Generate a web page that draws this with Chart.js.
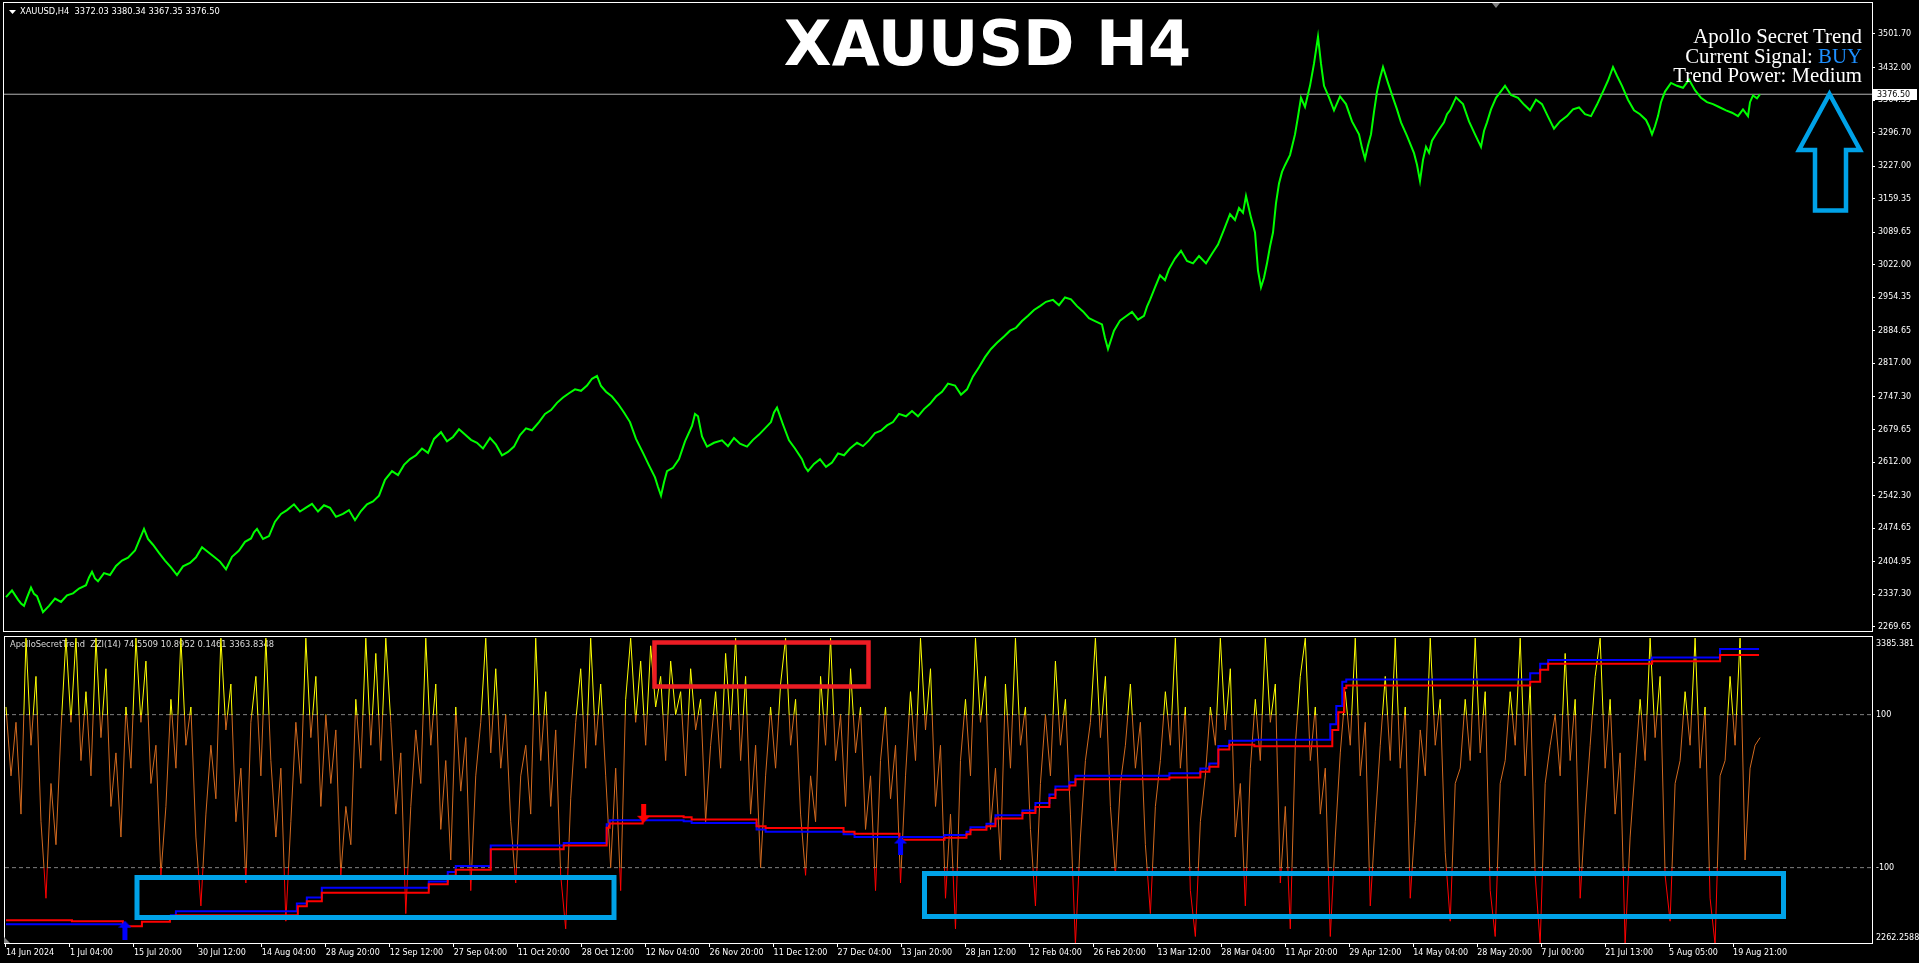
<!DOCTYPE html>
<html>
<head>
<meta charset="utf-8">
<title>XAUUSD H4</title>
<script src="https://cdn.jsdelivr.net/npm/chart.js@4.4.1/dist/chart.umd.min.js"></script>
<style>
  html, body { margin: 0; padding: 0; background: #000; width: 1919px; height: 963px; overflow: hidden; }
  #wrap { position: relative; width: 1919px; height: 963px; }
  canvas { position: absolute; left: 0; }
  #priceCanvas { top: 0; }
  #oscCanvas { top: 632px; }
  .txt { position: absolute; color: #fff; white-space: pre; }
  #header { left: 20px; top: 5px; font: 8.3px 'DejaVu Sans'; line-height: 12px; }
  #title { left: 0; width: 1975px; text-align: center; top: 13px; font: bold 62px 'DejaVu Sans'; line-height: 62px; }
  #info { right: 57px; top: 26px; font: 20.8px 'Liberation Serif'; line-height: 19.7px; text-align: right; }
  #info .buy { color: #1e90ff; }
  #marks { position: absolute; left: 0; top: 0; pointer-events: none; }
</style>
</head>
<body>
<div id="wrap">
  <canvas id="priceCanvas" width="1919" height="632"></canvas>
  <canvas id="oscCanvas" width="1919" height="331"></canvas>
  <div class="txt" id="header">XAUUSD,H4  3372.03 3380.34 3367.35 3376.50</div>
  <div class="txt" id="title">XAUUSD H4</div>
  <div class="txt" id="info">Apollo Secret Trend
Current Signal: <span class="buy">BUY</span>
Trend Power: Medium</div>
  <svg id="marks" width="1919" height="963">
    <polygon points="9,10 16,10 12.5,14" fill="#fff"/>
    <polygon points="1492,3 1500,3 1496,8" fill="#808080"/>
    <polygon points="4,937 4,943 10,943" fill="#808080"/>
    <!-- paint annotations -->
    <polygon points="1829.5,94 1860,150 1846,150 1846,210.5 1815,210.5 1815,150 1799,150"
             fill="none" stroke="#00a2e8" stroke-width="4.5" stroke-linejoin="miter"/>
    <rect x="654.5" y="642.5" width="214" height="44" fill="none" stroke="#ed1c24" stroke-width="4.5"/>
    <rect x="137" y="877.5" width="477" height="40" fill="none" stroke="#00a2e8" stroke-width="5"/>
    <rect x="924.5" y="873.5" width="859" height="43" fill="none" stroke="#00a2e8" stroke-width="5"/>
  </svg>
</div>

<script>
// ---- price pane (H4 closes) ----
const priceBars = [1,7,13,16,19,22,26,29,32,38,44,50,56,62,68,74,81,84,87,90,93,99,105,111,117,123,130,134,139,143,148,154,160,166,172,178,185,191,197,203,209,215,221,227,234,240,246,249,252,258,264,270,276,282,289,295,301,307,313,319,325,331,338,344,350,356,362,368,374,380,387,393,399,405,411,417,423,429,436,442,448,454,460,466,472,478,485,491,497,503,509,515,521,527,534,540,546,552,558,564,570,576,582,587,592,596,601,607,613,619,625,631,638,644,650,653,656,659,662,668,674,680,687,690,693,697,702,709,717,723,729,735,742,748,754,760,766,769,772,778,784,790,797,800,803,809,815,821,827,833,839,845,852,858,864,870,876,882,888,894,901,907,913,919,925,931,937,943,950,956,962,968,974,980,986,992,999,1005,1011,1017,1023,1029,1035,1041,1048,1054,1060,1066,1072,1078,1084,1090,1097,1100,1103,1109,1115,1121,1127,1133,1139,1142,1145,1150,1155,1160,1164,1170,1176,1182,1188,1194,1201,1207,1213,1219,1225,1230,1234,1238,1241,1246,1250,1253,1256,1259,1262,1265,1268,1271,1274,1277,1280,1285,1290,1293,1296,1300,1305,1309,1313,1316,1319,1324,1329,1335,1341,1347,1354,1357,1360,1363,1366,1369,1372,1375,1378,1383,1388,1392,1396,1402,1409,1412,1415,1418,1421,1424,1427,1433,1439,1442,1445,1451,1458,1464,1470,1473,1476,1479,1482,1486,1491,1495,1500,1506,1513,1519,1525,1531,1537,1543,1549,1555,1562,1568,1574,1580,1586,1592,1598,1603,1608,1612,1617,1623,1629,1635,1641,1644,1647,1650,1653,1656,1660,1666,1672,1678,1684,1690,1696,1702,1708,1714,1721,1727,1733,1738,1743,1745,1748,1752,1755];
const priceClose = [2331,2345,2326,2318,2313,2330,2351,2338,2333,2300,2313,2328,2321,2335,2339,2349,2356,2372,2384,2370,2364,2381,2377,2396,2407,2413,2428,2448,2473,2452,2440,2423,2407,2393,2377,2395,2402,2414,2435,2425,2415,2405,2389,2415,2428,2446,2453,2466,2473,2452,2458,2488,2504,2512,2524,2509,2517,2525,2509,2522,2517,2498,2504,2512,2491,2510,2524,2530,2542,2575,2593,2585,2606,2618,2626,2640,2631,2660,2674,2655,2664,2680,2669,2658,2652,2640,2662,2648,2626,2633,2644,2668,2682,2678,2695,2712,2720,2735,2746,2755,2763,2760,2771,2785,2791,2770,2758,2748,2733,2715,2695,2660,2631,2605,2580,2560,2542,2570,2593,2600,2618,2655,2687,2712,2707,2665,2644,2652,2657,2645,2662,2650,2644,2658,2669,2682,2695,2715,2725,2690,2657,2640,2618,2602,2593,2608,2618,2602,2611,2630,2626,2640,2652,2645,2657,2672,2677,2688,2695,2712,2707,2718,2707,2722,2733,2748,2758,2775,2771,2752,2763,2790,2809,2830,2847,2860,2873,2885,2891,2905,2916,2928,2936,2945,2949,2938,2954,2950,2936,2925,2911,2905,2898,2870,2847,2885,2906,2915,2924,2908,2916,2935,2949,2975,3000,2990,3013,3035,3051,3030,3025,3040,3025,3045,3064,3095,3127,3115,3140,3130,3165,3120,3089,3010,2975,2995,3025,3060,3089,3150,3191,3215,3229,3250,3293,3330,3369,3350,3394,3440,3496,3440,3394,3370,3343,3372,3356,3320,3293,3265,3242,3270,3293,3340,3382,3410,3433,3400,3369,3345,3318,3290,3254,3230,3196,3240,3267,3255,3280,3300,3318,3335,3343,3370,3356,3320,3293,3280,3267,3300,3318,3345,3369,3380,3394,3375,3369,3355,3343,3365,3356,3330,3305,3320,3331,3345,3349,3335,3331,3355,3382,3405,3433,3415,3394,3365,3343,3335,3323,3310,3293,3310,3331,3360,3382,3400,3394,3390,3407,3385,3369,3360,3356,3350,3343,3338,3331,3345,3331,3360,3374,3368,3376.5];
const lastPrice = 3376.50;
const priceTicks = [3501.70,3432.00,3364.35,3296.70,3227.00,3159.35,3089.65,3022.00,2954.35,2884.65,2817.00,2747.30,2679.65,2612.00,2542.30,2474.65,2404.95,2337.30,2269.65];

// ---- indicator pane ----
const blueBars = [0,117,118,164,170,291,301,316,423,442,450,485,558,601,604,678,686,751,760,838,849,939,961,965,981,990,1017,1030,1044,1050,1064,1070,1164,1195,1204,1213,1224,1249,1325,1331,1337,1341,1525,1535,1543,1647,1715,1754];
const blueVals = [2331.3,2331.3,null,2364.0,2378.6,2407.6,2429.5,2464.7,2487.6,2522.5,2544.7,2620.3,2629.4,2698.5,2713.0,2709.3,2703.1,2679.2,2670.4,2661.0,2651.2,2658.4,2670.4,2687.5,2699.5,2731.1,2748.2,2775.8,2807.5,2836.5,2852.2,2876.5,2884.9,2903.1,2921.2,2985.6,3004.9,3008.5,3065.5,3132,3220.7,3229.8,3252,3287.6,3301,3309.8,3341,3341];
const redBars = [0,66,117,136,164,170,292,301,316,423,442,450,485,558,601,604,637,678,686,751,760,838,849,894,939,961,965,981,990,1017,1030,1044,1050,1064,1070,1164,1195,1204,1213,1224,1249,1327,1333,1339,1341,1525,1535,1543,1647,1715,1754];
const redVals = [2345.9,2342.2,2324.0,2340.4,2360.4,2364.0,2396.8,2415.6,2446.9,2477.8,2509.0,2531.2,2606.8,2620.3,2685.0,2701.0,2727.5,2723.9,2715.5,2691.2,2683.9,2670.4,2663.2,2641.3,2648.6,2661.0,2677.7,2691.2,2719.1,2739.5,2761.3,2794.0,2824.6,2840.2,2863.1,2869.3,2891.1,2909.3,2972.1,2990.3,2984.4,3043.7,3109,3198.6,3207.3,3220.7,3265.4,3287.3,3296.3,3318.9,3318.9];
const buyBars = [119, 895];
const buyVals = [2309.5, 2618.5];
const sellBars = [638];
const sellVals = [2738.4];
const oscStep = 5;
const oscVals = [
  110,20,90,-30,200,60,150,-40,-140,10,-70,80,200,90,200,40,130,20,200,70,
  160,-20,50,-60,110,30,200,90,170,10,60,-110,-20,120,30,200,60,110,-60,-150,
  -30,60,-10,200,80,140,-40,30,-120,90,150,20,200,40,-60,30,-170,-40,90,10,
  200,70,150,-20,100,10,80,-110,-20,-70,120,30,200,60,180,40,200,90,-30,50,
  -160,-20,80,10,200,60,140,-50,40,-90,110,0,70,-130,20,90,200,50,160,30,
  100,-40,-120,20,60,-30,200,40,130,-20,80,-110,-180,-10,90,160,30,200,60,140,
  20,-100,30,-130,120,200,90,170,60,190,110,150,40,170,100,130,20,160,80,120,
  -40,60,130,30,180,80,200,40,150,-30,60,-100,20,110,30,140,200,60,120,-30,
  -110,20,-40,150,60,200,40,100,-20,160,50,110,-50,20,-130,40,110,-10,60,-120,
  20,130,40,200,80,160,-20,60,-140,-30,-180,40,120,20,200,90,150,-50,30,-90,
  140,30,200,60,110,-50,-150,10,100,20,170,60,120,-30,-200,-60,40,90,200,70,
  150,-20,-110,10,60,140,30,90,-70,-160,-20,40,130,60,200,30,110,-130,-190,-40,
  20,110,60,200,80,160,-60,10,-150,30,120,40,200,90,140,-120,-20,-180,60,150,
  200,40,110,-30,30,-190,-60,50,130,60,200,20,90,-150,-40,60,150,40,200,30,
  110,-140,-40,80,20,200,60,120,-80,-170,10,30,120,40,200,50,130,-130,-190,10,
  40,130,60,200,20,140,-110,-200,10,60,100,20,180,40,120,-140,-30,60,150,200,
  30,120,-30,50,-200,-60,30,120,40,200,70,150,-110,-170,10,40,130,60,200,30,
  110,-140,-200,20,40,150,60,200,-90,30,60,70
];
const levels = [100, -100];
const lineMin = 2262.2588, lineMax = 3385.381;

const timeLabels = ['14 Jun 2024','1 Jul 04:00','15 Jul 20:00','30 Jul 12:00','14 Aug 04:00','28 Aug 20:00','12 Sep 12:00','27 Sep 04:00','11 Oct 20:00','28 Oct 12:00','12 Nov 04:00','26 Nov 20:00','11 Dec 12:00','27 Dec 04:00','13 Jan 20:00','28 Jan 12:00','12 Feb 04:00','26 Feb 20:00','13 Mar 12:00','28 Mar 04:00','11 Apr 20:00','29 Apr 12:00','14 May 04:00','28 May 20:00','7 Jul 00:00','21 Jul 13:00','5 Aug 05:00','19 Aug 21:00'];
const barsPerLabel = 64;

const X_MIN = -1, X_MAX = 1867;
const AXIS_W = 47;

Chart.defaults.font.family = 'DejaVu Sans';
Chart.defaults.font.size = 8;
Chart.defaults.color = '#fff';

const pairs = (xs, ys) => xs.map((x, i) => ({ x: x, y: ys[i] }));

// keep the plot area exactly where layout.padding puts it
function fitY(s) { s.width = AXIS_W; s.paddingTop = 0; s.paddingBottom = 0; }
function fitX(s) { s.height = 20; s.paddingLeft = 0; s.paddingRight = 0; }

// white frame round each pane
const framePlugin = {
  id: 'frame',
  afterDraw(chart) {
    const a = chart.chartArea, c = chart.ctx;
    c.save();
    c.strokeStyle = '#fff';
    c.lineWidth = 1;
    c.strokeRect(a.left - 0.5, a.top - 0.5, a.right - a.left + 1, a.bottom - a.top + 1);
    c.restore();
  }
};

// current price box on the axis
const priceBoxPlugin = {
  id: 'priceBox',
  afterDraw(chart) {
    const y = chart.scales.y.getPixelForValue(lastPrice);
    const c = chart.ctx, r = chart.chartArea.right;
    c.save();
    c.fillStyle = '#fff';
    c.fillRect(r + 1, Math.round(y) - 5, 44, 11);
    c.fillStyle = '#000';
    c.font = '8px "DejaVu Sans"';
    c.textBaseline = 'middle';
    c.fillText(lastPrice.toFixed(2), r + 5, Math.round(y) + 0.5);
    c.restore();
  }
};

// indicator short name, drawn under the lines like MT4 does
const oscLabelPlugin = {
  id: 'oscLabel',
  beforeDatasetsDraw(chart) {
    const c = chart.ctx;
    c.save();
    c.fillStyle = '#d8d8d8';
    c.font = '8.3px "DejaVu Sans"';
    c.textBaseline = 'middle';
    c.fillText('ApolloSecretTrend  ZZI(14) 74.5509 10.8952 0.1461 3363.8348', 10, chart.chartArea.top + 8);
    c.restore();
  }
};

new Chart(document.getElementById('priceCanvas'), {
  type: 'line',
  data: {
    datasets: [
      {
        data: pairs(priceBars, priceClose),
        borderColor: '#00ff00',
        borderWidth: 2,
        pointRadius: 0,
        tension: 0,
        order: 0
      },
      {
        data: [{ x: X_MIN, y: lastPrice }, { x: X_MAX, y: lastPrice }],
        borderColor: '#b4b4b4',
        borderWidth: 1,
        pointRadius: 0,
        order: 1
      }
    ]
  },
  options: {
    responsive: false,
    animation: false,
    devicePixelRatio: 1,
    layout: { padding: { left: 4, top: 3, right: 0, bottom: 1 } },
    plugins: { legend: { display: false }, tooltip: { enabled: false } },
    scales: {
      x: { type: 'linear', min: X_MIN, max: X_MAX, display: false },
      y: {
        position: 'right',
        min: 2260.7,
        max: 3566.14,
        afterBuildTicks: s => { s.ticks = priceTicks.map(v => ({ value: v })); },
        afterFit: fitY,
        border: { display: false },
        grid: { drawOnChartArea: false, drawTicks: true, tickLength: 3, color: '#fff' },
        ticks: { autoSkip: false, padding: 3, color: '#fff', callback: v => v.toFixed(2) }
      }
    }
  },
  plugins: [framePlugin, priceBoxPlugin]
});

function arrowImage(color, up) {
  const c = document.createElement('canvas');
  c.width = 13; c.height = 19;
  const g = c.getContext('2d');
  g.fillStyle = color;
  g.beginPath();
  const pts = [[6.5, 0], [13, 7], [9, 7], [9, 19], [4, 19], [4, 7], [0, 7]];
  pts.forEach(([px, py], i) => {
    const yy = up ? py : 19 - py;
    if (i === 0) g.moveTo(px, yy); else g.lineTo(px, yy);
  });
  g.closePath();
  g.fill();
  return c;
}

// yellow above +100, orange in between, red below -100
function oscColor(ctx) {
  const chart = ctx.chart;
  const a = chart.chartArea;
  if (!a) return '#d2691e';
  const s = chart.scales.yo;
  const h = a.bottom - a.top;
  const f1 = Math.min(1, Math.max(0, (s.getPixelForValue(levels[0]) - a.top) / h));
  const f2 = Math.min(1, Math.max(0, (s.getPixelForValue(levels[1]) - a.top) / h));
  const g = chart.ctx.createLinearGradient(0, a.top, 0, a.bottom);
  g.addColorStop(0, '#ffff00');
  g.addColorStop(f1, '#ffff00');
  g.addColorStop(f1, '#d2691e');
  g.addColorStop(f2, '#d2691e');
  g.addColorStop(f2, '#ff0000');
  g.addColorStop(1, '#ff0000');
  return g;
}

const oscTop = 201.5, oscBottom = -198.5;
const topLabelAt = 192.5, bottomLabelAt = -192;

new Chart(document.getElementById('oscCanvas'), {
  type: 'line',
  data: {
    datasets: [
      {
        type: 'scatter',
        data: pairs(buyBars, buyVals),
        yAxisID: 'yl',
        pointStyle: arrowImage('#0000ff', true),
        order: 0
      },
      {
        type: 'scatter',
        data: pairs(sellBars, sellVals),
        yAxisID: 'yl',
        pointStyle: arrowImage('#ff0000', false),
        order: 0
      },
      {
        data: pairs(redBars, redVals),
        yAxisID: 'yl',
        borderColor: '#ff0000',
        borderWidth: 2,
        pointRadius: 0,
        stepped: true,
        spanGaps: false,
        order: 1
      },
      {
        data: pairs(blueBars, blueVals),
        yAxisID: 'yl',
        borderColor: '#0000ff',
        borderWidth: 2,
        pointRadius: 0,
        stepped: true,
        spanGaps: false,
        order: 2
      },
      {
        data: oscVals.map((v, i) => ({ x: i * oscStep, y: v })),
        yAxisID: 'yo',
        borderColor: oscColor,
        borderWidth: 1,
        pointRadius: 0,
        tension: 0,
        order: 3
      },
      ...levels.map(l => ({
        data: [{ x: X_MIN, y: l }, { x: X_MAX, y: l }],
        yAxisID: 'yo',
        borderColor: '#808080',
        borderWidth: 1,
        borderDash: [4, 3],
        pointRadius: 0,
        order: 4
      }))
    ]
  },
  options: {
    responsive: false,
    animation: false,
    devicePixelRatio: 1,
    layout: { padding: { left: 4, top: 1, right: 0, bottom: 0 } },
    plugins: { legend: { display: false }, tooltip: { enabled: false } },
    scales: {
      x: {
        type: 'linear',
        min: X_MIN,
        max: X_MAX,
        afterBuildTicks: s => { s.ticks = timeLabels.map((_, i) => ({ value: i * barsPerLabel })); },
        afterFit: fitX,
        border: { display: false },
        grid: { drawOnChartArea: false, drawTicks: true, tickLength: 4, color: '#fff' },
        ticks: {
          autoSkip: false, maxRotation: 0, align: 'start', padding: 1, color: '#fff',
          callback: (v, i) => timeLabels[i]
        }
      },
      yo: {
        position: 'right',
        min: oscBottom,
        max: oscTop,
        afterBuildTicks: s => { s.ticks = [topLabelAt, levels[0], levels[1], bottomLabelAt].map(v => ({ value: v })); },
        afterFit: fitY,
        border: { display: false },
        grid: { display: false, drawTicks: false },
        ticks: {
          autoSkip: false, padding: 4, color: '#fff',
          callback: v => v === topLabelAt ? String(lineMax) : v === bottomLabelAt ? String(lineMin) : v
        }
      },
      yl: { display: false, min: lineMin, max: lineMax }
    }
  },
  plugins: [framePlugin, oscLabelPlugin]
});
</script>
</body>
</html>
